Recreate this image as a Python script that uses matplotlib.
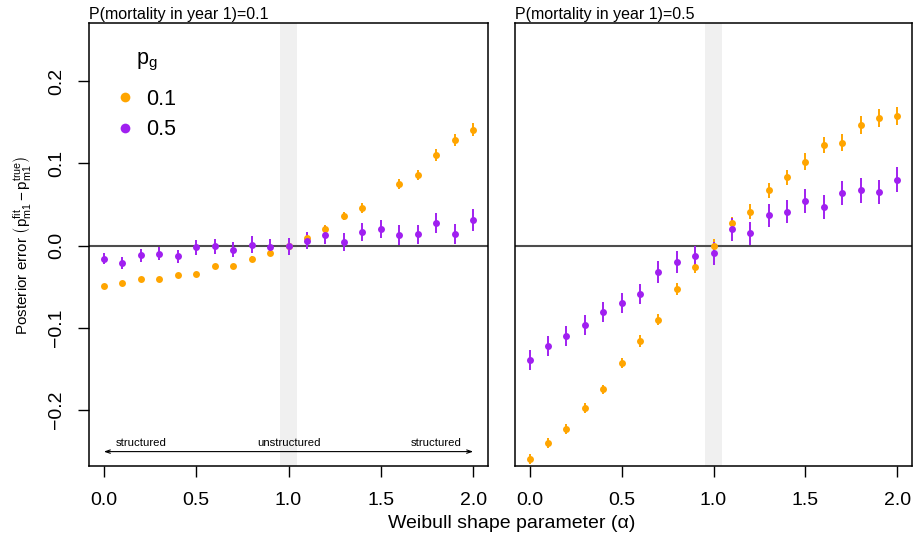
import numpy as np
import matplotlib
matplotlib.use("Agg")
import matplotlib.pyplot as plt
from matplotlib.lines import Line2D

plt.rcParams['font.family'] = ['Liberation Sans', 'DejaVu Sans']
plt.rcParams['mathtext.fontset'] = 'stixsans'

# Weibull shape values on the x axis
alpha = [0.0, 0.1, 0.2, 0.3, 0.4, 0.5, 0.6, 0.7, 0.8, 0.9, 1.0,
         1.1, 1.2, 1.3, 1.4, 1.5, 1.6, 1.7, 1.8, 1.9, 2.0]

panel_titles = ["P(mortality in year 1)=0.1", "P(mortality in year 1)=0.5"]
pg_labels = ["0.1", "0.5"]
pg_colors = ["#FFA500", "#A020F0"]

# P(mortality in year 1) = 0.1
err_m01_pg01 = [-0.049, -0.046, -0.041, -0.041, -0.036, -0.035, -0.025, -0.025, -0.016, -0.009, -0.001,
                0.0095, 0.020, 0.036, 0.046, np.nan, 0.075, 0.086, 0.110, 0.128, 0.141]
sd_m01_pg01 = [0.002, 0.002, 0.002, 0.002, 0.002, 0.003, 0.003, 0.003, 0.003, 0.004, 0.004,
               0.005, 0.005, 0.005, 0.006, np.nan, 0.006, 0.006, 0.007, 0.007, 0.008]
err_m01_pg05 = [-0.016, -0.021, -0.012, -0.010, -0.013, -0.002, -0.001, -0.005, 0.001, -0.002, -0.001,
                0.006, 0.013, 0.004, 0.016, 0.020, 0.013, 0.0135, 0.027, 0.014, 0.031]
sd_m01_pg05 = [0.007, 0.007, 0.008, 0.008, 0.008, 0.009, 0.009, 0.009, 0.010, 0.010, 0.010,
               0.010, 0.011, 0.011, 0.011, 0.011, 0.012, 0.012, 0.012, 0.012, 0.013]

# P(mortality in year 1) = 0.5
err_m05_pg01 = [-0.259, -0.240, -0.223, -0.197, -0.175, -0.143, -0.116, -0.090, -0.053, -0.026, 0.000,
                0.027, 0.041, 0.067, 0.083, 0.102, 0.122, 0.125, 0.146, 0.155, 0.157]
sd_m05_pg01 = [0.006, 0.006, 0.006, 0.006, 0.006, 0.006, 0.007, 0.007, 0.007, 0.008, 0.008,
               0.008, 0.009, 0.009, 0.009, 0.010, 0.010, 0.010, 0.011, 0.011, 0.011]
err_m05_pg05 = [-0.139, -0.122, -0.110, -0.097, -0.081, -0.070, -0.059, -0.032, -0.020, -0.013, -0.0095,
                0.020, 0.015, 0.037, 0.041, 0.054, 0.047, 0.064, 0.067, 0.065, 0.080]
sd_m05_pg05 = [0.012, 0.012, 0.012, 0.012, 0.012, 0.012, 0.012, 0.013, 0.013, 0.013, 0.014,
               0.014, 0.014, 0.014, 0.014, 0.015, 0.015, 0.015, 0.015, 0.015, 0.015]

panels = [
    [(err_m01_pg01, sd_m01_pg01), (err_m01_pg05, sd_m01_pg05)],
    [(err_m05_pg01, sd_m05_pg01), (err_m05_pg05, sd_m05_pg05)],
]

W, H = 913, 536
fig = plt.figure(figsize=(W / 100, H / 100), dpi=100)

ax_boxes = [(89, 23, 488, 466), (515, 23, 912, 466)]  # left, top, right, bottom in pixels

for i, (box, series) in enumerate(zip(ax_boxes, panels)):
    l, t, r, b = box
    ax = fig.add_axes([l / W, 1 - b / H, (r - l) / W, (b - t) / H])
    ax.set_xlim(-0.08, 2.08)
    ax.set_ylim(-0.268, 0.2705)

    # alpha = 1 (exponential) band and the zero reference line
    ax.axvspan(0.955, 1.045, color="#F0F0F0", lw=0, zorder=0)
    ax.axhline(0, color="#4D4D4D", lw=1.5, zorder=1)

    for (vals, sds), col in zip(series, pg_colors):
        ax.errorbar(alpha, vals, yerr=sds, fmt="o", color=col, ms=5, mew=0,
                    elinewidth=1.4, capsize=0, zorder=3)

    ax.set_xticks([0.0, 0.5, 1.0, 1.5, 2.0])
    ax.set_xticklabels(["0.0", "0.5", "1.0", "1.5", "2.0"])
    ax.tick_params(axis="x", length=8, width=1, pad=11, labelsize=14)
    if i == 0:
        ax.set_yticks([-0.2, -0.1, 0.0, 0.1, 0.2])
        ax.set_yticklabels(["\u22120.2", "\u22120.1", "0.0", "0.1", "0.2"])
        ax.tick_params(axis="y", length=8, width=1, pad=9, labelsize=14)
        for tl in ax.get_yticklabels():
            tl.set_rotation(90)
            tl.set_va("center")
    else:
        ax.tick_params(axis="y", left=False, labelleft=False)

    for sp in ax.spines.values():
        sp.set_linewidth(1.1)

    ax.set_title(panel_titles[i], loc="left", fontsize=11.5, pad=3)

    if i == 0:
        # structured / unstructured guide along the bottom
        ax.annotate("", xy=(2.0, -0.2505), xytext=(0.0, -0.2505),
                    arrowprops=dict(arrowstyle="<->,head_length=0.35,head_width=0.12",
                                    lw=0.8, color="black", shrinkA=0, shrinkB=0))
        ax.text(0.2, -0.240, "structured", ha="center", va="center", fontsize=8.2)
        ax.text(1.0, -0.240, "unstructured", ha="center", va="center", fontsize=8.2)
        ax.text(1.8, -0.240, "structured", ha="center", va="center", fontsize=8.2)

        # legend: p_g heading plus plain dots
        ax.text(0.146, 0.911, r"$\mathregular{p_g}$", transform=ax.transAxes,
                ha="center", va="center", fontsize=15.5)
        handles = [Line2D([], [], ls="", marker="o", ms=7, mew=0, color=c) for c in pg_colors]
        ax.legend(handles, pg_labels, loc="center left", bbox_to_anchor=(0.064, 0.7935),
                  frameon=False, fontsize=15.5, handlelength=1.0, handletextpad=0.45,
                  labelspacing=0.45, borderpad=0, borderaxespad=0)

fig.text(22 / W, 1 - 245 / H,
         r"Posterior error $\left(\mathregular{p_{m1}^{fit} - p_{m1}^{true}}\right)$",
         rotation=90, ha="center", va="center", fontsize=11)
fig.text(512 / W, 1 - 523 / H, "Weibull shape parameter (\u03b1)",
         ha="center", va="center", fontsize=14)

fig.savefig("out.png", dpi=100)
